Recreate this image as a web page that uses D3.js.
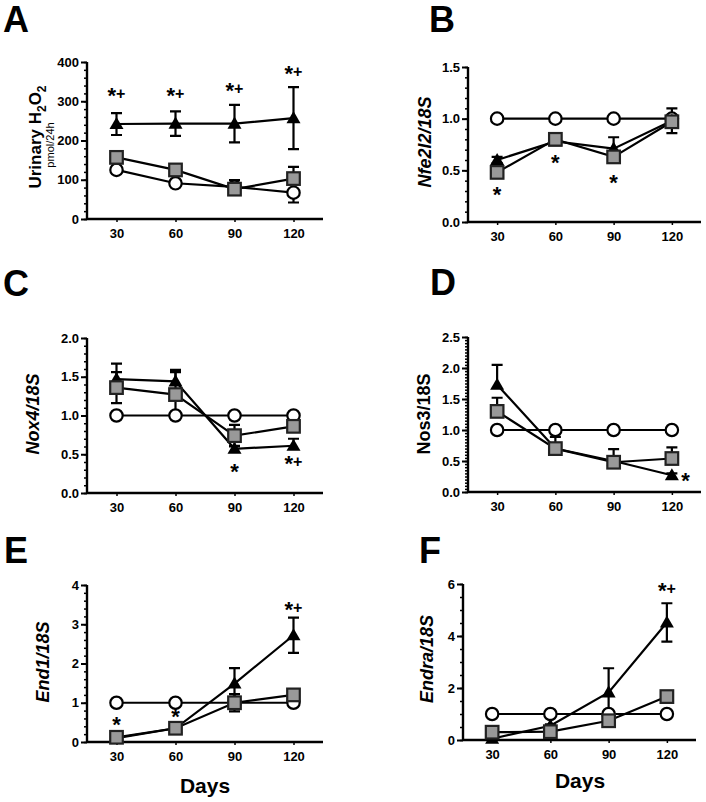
<!DOCTYPE html>
<html>
<head>
<meta charset="utf-8">
<script src="https://cdn.jsdelivr.net/npm/d3@7/dist/d3.min.js"></script>
<style>
  html, body { margin: 0; padding: 0; background: #fff; }
  svg { display: block; font-family: "Liberation Sans", Arial, sans-serif; }
</style>
</head>
<body>
<svg id="chart" width="706" height="802"></svg>
<script>
// ---------------- DATA ----------------
const days = [30, 60, 90, 120];

// Panel A: Urinary H2O2 (pmol/24h)
const aControl = [125, 91, 82, 67];
const aControlSem = [4, 4, 4, 25];
const aSquare = [157, 125, 76, 103];
const aSquareSem = [5, 5, 23, 30];
const aTriangle = [242, 243, 243, 257];
const aTriangleSem = [28, 31, 48, 79];
const aTicks = [0, 100, 200, 300, 400];
const aNotes = [
  { day: 30, y: 318, text: "*+" }, { day: 60, y: 318, text: "*+" },
  { day: 90, y: 332, text: "*+" }, { day: 120, y: 375, text: "*+" }
];

// Panel B: Nfe2l2/18S
const bControl = [1, 1, 1, 1];
const bControlSem = [0, 0, 0, 0.14];
const bSquare = [0.48, 0.80, 0.63, 0.97];
const bSquareSem = [0.03, 0.03, 0.03, 0.13];
const bTriangle = [0.60, 0.78, 0.71, 0.98];
const bTriangleSem = [0.03, 0.03, 0.11, 0.05];
const bTicks = [0, 0.5, 1.0, 1.5];
const bNotes = [
  { day: 30, y: 0.28, text: "*" }, { day: 60, y: 0.59, text: "*" }, { day: 90, y: 0.40, text: "*" }
];

// Panel C: Nox4/18S
const cControl = [1, 1, 1, 1];
const cControlSem = [0, 0, 0, 0];
const cSquare = [1.36, 1.27, 0.74, 0.86];
const cSquareSem = [0.2, 0.29, 0.14, 0.05];
const cTriangle = [1.47, 1.44, 0.57, 0.61];
const cTriangleSem = [0.2, 0.15, 0.04, 0.09];
const cTicks = [0, 0.5, 1.0, 1.5, 2.0];
const cNotes = [ { day: 90, y: 0.30, text: "*" }, { day: 120, y: 0.40, text: "*+" } ];

// Panel D: Nos3/18S
const dControl = [1, 1, 1, 1];
const dControlSem = [0, 0, 0, 0];
const dSquare = [1.30, 0.70, 0.48, 0.54];
const dSquareSem = [0.22, 0.19, 0.21, 0.18];
const dTriangle = [1.73, 0.70, 0.50, 0.27];
const dTriangleSem = [0.32, 0.05, 0.05, 0.03];
const dTicks = [0, 0.5, 1.0, 1.5, 2.0, 2.5];
const dNotes = [ { day: 127, y: 0.21, text: "*" } ];

// Panel E: End1/18S
const eControl = [1, 1, 1, 1];
const eControlSem = [0, 0, 0, 0];
const eSquare = [0.12, 0.35, 1.0, 1.2];
const eSquareSem = [0.05, 0.05, 0.22, 0.1];
const eTriangle = [0.10, 0.35, 1.49, 2.72];
const eTriangleSem = [0.05, 0.05, 0.39, 0.45];
const eTicks = [0, 1, 2, 3, 4];
const eNotes = [
  { day: 30, y: 0.49, text: "*" }, { day: 60, y: 0.68, text: "*" }, { day: 120, y: 3.42, text: "*+" }
];

// Panel F: Endra/18S
const fControl = [1, 1, 1, 1];
const fControlSem = [0, 0, 0, 0];
const fSquare = [0.30, 0.32, 0.74, 1.67];
const fSquareSem = [0.05, 0.05, 0.05, 0.1];
const fTriangle = [0.05, 0.55, 1.83, 4.52];
const fTriangleSem = [0.05, 0.05, 0.93, 0.74];
const fTicks = [0, 2, 4, 6];
const fNotes = [ { day: 120, y: 5.8, text: "*+" } ];

// ---------------- LAYOUT ----------------
const FONT = "'Liberation Sans', Arial, sans-serif";
const panels = [
  { letter: "A", lx: 3, ly: 32, x0: 87, x1: 323, yTop: 62, yBot: 219, ticks: aTicks, minor: 20, fmt: d3.format("d"),
    ctrl: aControl, ctrlSem: aControlSem, sq: aSquare, sqSem: aSquareSem, tri: aTriangle, triSem: aTriangleSem, notes: aNotes,
    dirs: { circle: "down", square: "up", triangle: "both" },
    ylab: { x: 41, y: 137, kind: "h2o2" } },
  { letter: "B", lx: 429, ly: 32, x0: 468, x1: 701, yTop: 67, yBot: 222, ticks: bTicks, minor: 0.1, fmt: d3.format(".1f"),
    ctrl: bControl, ctrlSem: bControlSem, sq: bSquare, sqSem: bSquareSem, tri: bTriangle, triSem: bTriangleSem, notes: bNotes,
    dirs: { circle: "down", square: "up", triangle: "both" },
    ylab: { x: 431, y: 142, text: "Nfe2l2/18S", italic: true } },
  { letter: "C", lx: 3, ly: 296, x0: 87, x1: 323, yTop: 338, yBot: 493, ticks: cTicks, minor: 0.1, fmt: d3.format(".1f"),
    ctrl: cControl, ctrlSem: cControlSem, sq: cSquare, sqSem: cSquareSem, tri: cTriangle, triSem: cTriangleSem, notes: cNotes,
    dirs: { circle: "both", square: "both", triangle: "up" },
    ylab: { x: 39, y: 414, text: "Nox4/18S", italic: true } },
  { letter: "D", lx: 430, ly: 295, x0: 468, x1: 701, yTop: 337, yBot: 492, ticks: dTicks, minor: 0.05, fmt: d3.format(".1f"),
    ctrl: dControl, ctrlSem: dControlSem, sq: dSquare, sqSem: dSquareSem, tri: dTriangle, triSem: dTriangleSem, notes: dNotes,
    dirs: { circle: "both", square: "up", triangle: "up" },
    ylab: { x: 430, y: 414, text: "Nos3/18S", italic: false } },
  { letter: "E", lx: 4, ly: 563, x0: 87, x1: 323, yTop: 585, yBot: 742, ticks: eTicks, minor: 0.2, fmt: d3.format("d"),
    ctrl: eControl, ctrlSem: eControlSem, sq: eSquare, sqSem: eSquareSem, tri: eTriangle, triSem: eTriangleSem, notes: eNotes,
    dirs: { circle: "both", square: "both", triangle: "both" },
    ylab: { x: 49, y: 662, text: "End1/18S", italic: true }, days: { x: 205, y: 793 } },
  { letter: "F", lx: 419, ly: 563, x0: 463, x1: 696, yTop: 584, yBot: 740, ticks: fTicks, minor: 0.5, fmt: d3.format("d"),
    ctrl: fControl, ctrlSem: fControlSem, sq: fSquare, sqSem: fSquareSem, tri: fTriangle, triSem: fTriangleSem, notes: fNotes,
    dirs: { circle: "both", square: "both", triangle: "both" },
    ylab: { x: 433, y: 659, text: "Endra/18S", italic: true }, days: { x: 580, y: 788 } }
];

const svg = d3.select("#chart");
svg.append("rect").attr("width", 706).attr("height", 802).attr("fill", "#fff");

panels.forEach(p => {
  const g = svg.append("g");
  const yMax = p.ticks[p.ticks.length - 1];
  const x = d3.scaleLinear().domain([15, 135]).range([p.x0, p.x1]);
  const y = d3.scaleLinear().domain([0, yMax]).range([p.yBot, p.yTop]);

  // panel letter
  g.append("text").attr("x", p.lx).attr("y", p.ly).text(p.letter)
    .attr("font-family", FONT).attr("font-weight", "bold").attr("font-size", 36).attr("fill", "#000");

  // minor y ticks
  const nMinor = Math.round(yMax / p.minor);
  const minorVals = d3.range(nMinor + 1).map(i => +(i * p.minor).toFixed(4));
  const yMinorAxis = d3.axisLeft(y).tickValues(minorVals).tickSize(3).tickFormat("");
  const gm = g.append("g").attr("transform", `translate(${p.x0},0)`).call(yMinorAxis);
  gm.select(".domain").remove();
  gm.selectAll("line").attr("stroke", "#000").attr("stroke-width", 1.5);

  // major y axis
  const yAxis = d3.axisLeft(y).tickValues(p.ticks).tickSize(6).tickPadding(2).tickFormat(p.fmt);
  const gy = g.append("g").attr("transform", `translate(${p.x0},0)`).call(yAxis);
  gy.select(".domain").attr("d", `M0,${p.yTop}V${p.yBot}`).attr("stroke", "#000").attr("stroke-width", 2.4);
  gy.selectAll("line").attr("stroke", "#000").attr("stroke-width", 2);
  gy.selectAll("text").attr("font-family", FONT).attr("font-weight", "bold").attr("font-size", 13).attr("fill", "#000");

  // x axis
  const xAxis = d3.axisBottom(x).tickValues(days).tickSize(3).tickPadding(5).tickFormat(d3.format("d"));
  const gx = g.append("g").attr("transform", `translate(0,${p.yBot})`).call(xAxis);
  gx.select(".domain").attr("d", `M${p.x0},0H${p.x1}`).attr("stroke", "#000").attr("stroke-width", 2.4);
  gx.selectAll("line").attr("stroke", "#000").attr("stroke-width", 1.5);
  gx.selectAll("text").attr("font-family", FONT).attr("font-weight", "bold").attr("font-size", 13).attr("fill", "#000")
    .attr("dy", "0.85em");

  // y label
  const yl = g.append("text")
    .attr("transform", `translate(${p.ylab.x},${p.ylab.y}) rotate(-90)`)
    .attr("text-anchor", "middle").attr("font-family", FONT).attr("font-weight", "bold")
    .attr("font-size", p.ylab.kind === "h2o2" ? 17 : 18).attr("fill", "#000");
  if (p.ylab.kind === "h2o2") {
    yl.append("tspan").text("Urinary H");
    yl.append("tspan").text("2").attr("font-size", 12).attr("dy", 5);
    yl.append("tspan").text("O").attr("dy", -5);
    yl.append("tspan").text("2").attr("font-size", 12).attr("dy", 5);
    g.append("text").attr("transform", `translate(54,145) rotate(-90)`)
      .attr("text-anchor", "middle").attr("font-family", FONT).attr("font-size", 11).attr("fill", "#000")
      .text("pmol/24h");
  } else {
    yl.text(p.ylab.text).attr("font-style", p.ylab.italic ? "italic" : "normal");
  }

  if (p.days) {
    g.append("text").attr("x", p.days.x).attr("y", p.days.y).attr("text-anchor", "middle")
      .attr("font-family", FONT).attr("font-weight", "bold").attr("font-size", 21).attr("fill", "#000").text("Days");
  }

  const series = [
    { vals: p.ctrl, sem: p.ctrlSem, shape: "circle" },
    { vals: p.tri, sem: p.triSem, shape: "triangle" },
    { vals: p.sq, sem: p.sqSem, shape: "square" }
  ];
  const line = d3.line().x((d, i) => x(days[i])).y(d => y(d));

  // lines
  series.forEach(s => {
    g.append("path").attr("d", line(s.vals)).attr("fill", "none").attr("stroke", "#000").attr("stroke-width", 2.2);
  });
  // error bars
  series.forEach(s => {
    const dir = p.dirs[s.shape];
    s.vals.forEach((v, i) => {
      const e = s.sem[i];
      if (!e) return;
      const cx = x(days[i]), cy = y(v);
      let path = "";
      if (dir !== "down") { const hi = y(v + e); path += `M${cx},${cy}V${hi}M${cx - 5.5},${hi}H${cx + 5.5}`; }
      if (dir !== "up") { const lo = y(Math.max(0, v - e)); path += `M${cx},${cy}V${lo}M${cx - 5.5},${lo}H${cx + 5.5}`; }
      g.append("path").attr("d", path).attr("stroke", "#000").attr("stroke-width", 2.2).attr("fill", "none");
    });
  });
  // markers
  series.forEach(s => {
    s.vals.forEach((v, i) => {
      const cx = x(days[i]), cy = y(v);
      if (s.shape === "circle") {
        g.append("circle").attr("cx", cx).attr("cy", cy).attr("r", 6.2)
          .attr("fill", "#fff").attr("stroke", "#000").attr("stroke-width", 2.2);
      } else if (s.shape === "square") {
        g.append("rect").attr("x", cx - 6.3).attr("y", cy - 6.3).attr("width", 12.6).attr("height", 12.6)
          .attr("fill", "#999").attr("stroke", "#222").attr("stroke-width", 2.2);
      } else {
        g.append("path").attr("d", d3.symbol(d3.symbolTriangle, 85)())
          .attr("transform", `translate(${cx},${cy + 1})`).attr("fill", "#000");
      }
    });
  });

  // annotations: larger asterisk, plus sign on its right
  p.notes.forEach(n => {
    const t = g.append("text").attr("x", x(n.day)).attr("y", y(n.y) + 6).attr("text-anchor", "middle")
      .attr("font-family", FONT).attr("font-weight", "bold").attr("fill", "#000");
    n.text.split("").forEach(ch => {
      if (ch === "*") t.append("tspan").text(ch).attr("font-size", 22).attr("dy", 3);
      else t.append("tspan").text(ch).attr("font-size", 16).attr("dy", -4);
    });
  });
});
</script>
</body>
</html>
